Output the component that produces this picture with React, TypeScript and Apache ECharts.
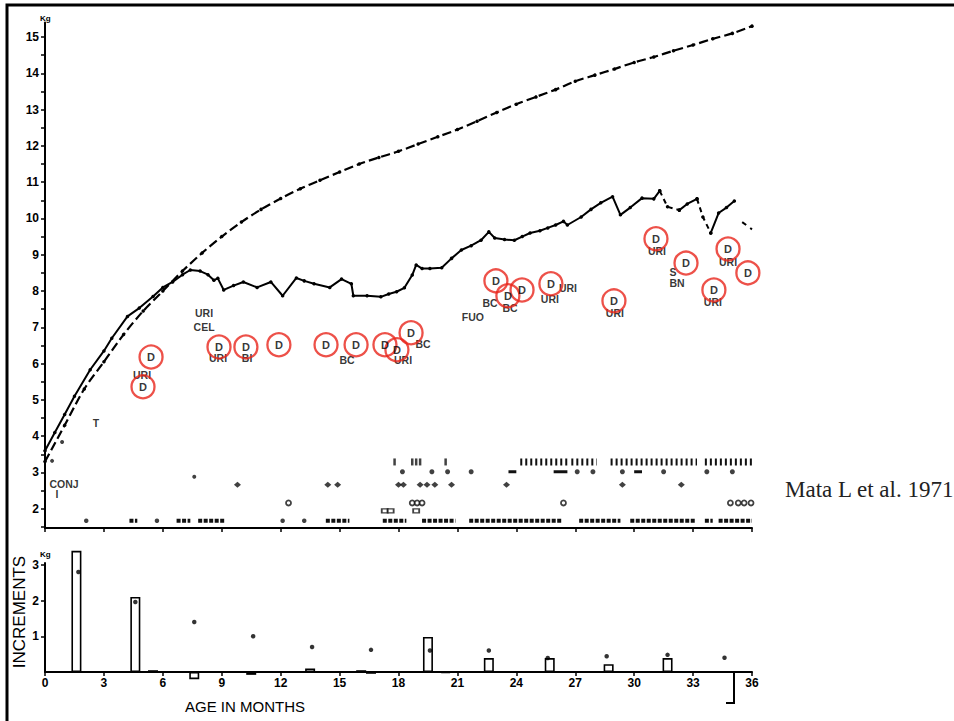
import React, { useEffect, useRef } from "react";
import * as echarts from "echarts";

// ---------- DATA ----------
const standardMonths = [0,1,2,3,4,5,6,7,8,9,10,11,12,13,14,15,16,17,18,19,20,21,22,23,24,25,26,27,28,29,30,31,32,33,34,35,36];
const standardWeight = [3.3,4.3,5.3,6.05,6.8,7.45,8.0,8.55,9.05,9.5,9.9,10.25,10.55,10.82,11.05,11.28,11.5,11.68,11.85,12.05,12.25,12.45,12.68,12.92,13.15,13.35,13.55,13.78,13.95,14.12,14.3,14.45,14.62,14.78,14.95,15.1,15.3];

const childMonths = [0,0.5,1,1.5,2.3,3.0,3.4,4.2,4.8,5.5,6.0,6.5,7.0,7.4,7.9,8.3,8.6,8.8,9.1,9.6,10.1,10.8,11.5,12.1,12.8,13.2,13.7,14.5,15.1,15.6,15.7,16.4,17.1,17.5,17.9,18.3,18.7,18.9,19.2,19.6,20.2,20.7,21.2,21.7,22.2,22.6,22.9,23.4,23.9,24.3,24.7,25.2,25.6,26.0,26.4,26.6,27.3,27.8,28.3,28.9,29.3,29.8,30.4,31.0,31.3,31.7,32.3,32.7,33.2,33.5,33.9,34.3,34.7,35.1];
const childWeight = [3.6,4.1,4.6,5.1,5.83,6.35,6.7,7.3,7.53,7.85,8.1,8.25,8.45,8.58,8.55,8.45,8.3,8.35,8.03,8.15,8.25,8.1,8.25,7.87,8.36,8.28,8.2,8.1,8.33,8.2,7.87,7.87,7.84,7.92,7.98,8.09,8.44,8.72,8.62,8.62,8.64,8.9,9.13,9.25,9.4,9.63,9.46,9.42,9.4,9.5,9.6,9.66,9.74,9.82,9.92,9.82,10.04,10.25,10.43,10.6,10.1,10.3,10.56,10.54,10.76,10.32,10.23,10.4,10.54,10.04,9.6,10.15,10.3,10.48];
// stretches of the child's curve drawn broken in the original (start, end month)
const childBrokenStretches = [[31.3, 32.3], [33.2, 33.9]];
const childTailMonths = [35.5, 36.0];
const childTailWeight = [9.9, 9.7];

// diarrhoea episodes (circled D): age, weight level
const diarrheaMonths = [4.99,5.40,8.86,10.23,11.91,14.31,15.84,17.31,17.92,18.64,22.96,23.57,24.29,25.76,28.97,31.11,32.64,34.06,34.78,35.79];
const diarrheaLevel = [5.36,6.18,6.46,6.46,6.52,6.52,6.52,6.52,6.38,6.85,8.28,7.87,8.03,8.20,7.73,9.44,8.77,8.03,9.16,8.50];

// other illness notes: age, level, label
const noteMonths = [4.94,8.81,10.29,15.38,18.23,19.25,22.66,23.68,26.63,25.71,21.79,29.02,31.16,31.98,32.18,34.01,34.78,8.10,8.10,2.6,0.97,0.61];
const noteLevel = [5.69,6.16,6.16,6.10,6.10,6.54,7.67,7.53,8.09,7.78,7.29,7.40,9.10,8.53,8.22,7.70,8.80,7.40,7.01,4.37,2.69,2.41];
const noteText = ["URI","URI","BI","BC","URI","BC","BC","BC","URI","URI","FUO","URI","URI","S","BN","URI","URI","URI","CEL","T","CONJ","I"];

// event rows in the lower part of the weight panel
const rowALevel = 3.29;
const rowASingles = [17.8, 18.7, 18.9, 19.1, 20.4];
const rowASpans = [[24.2, 26.6], [26.8, 28.1], [28.8, 33.2], [33.6, 36.0]];
const rowBLevel = 3.02;
const rowBSingles = [18.2, 19.7, 20.5, 21.7, 27.1, 27.9, 29.4, 31.5, 33.7, 35.0];
const rowBSpans = [[23.6, 24.0], [25.9, 26.6], [30.0, 30.4]];
const rowCLevel = 2.66;
const rowCSingles = [9.8, 14.4, 14.9, 18.0, 18.25, 19.1, 19.45, 19.85, 20.7, 23.5, 29.4, 32.4];
const rowDLevel = 2.16;
const rowDSingles = [12.4, 18.7, 18.95, 19.2, 26.4, 34.9, 35.3, 35.6, 35.95];
const rowELevel = 1.94;
const rowESingles = [17.3, 17.6, 18.9];
const rowFLevel = 1.67;
const rowFSingles = [2.1, 5.7, 12.1, 13.2];
const rowFSpans = [[4.3, 4.7], [6.7, 7.4], [7.8, 9.2], [14.3, 15.5], [17.2, 18.4], [19.2, 20.9], [21.6, 26.3], [27.2, 29.3], [29.8, 33.1], [33.6, 34.0], [34.3, 36.0]];
const miscMonths = [0.36, 0.87, 7.6];
const miscLevel = [3.32, 3.84, 2.88];

// increments panel
const incrementMonths = [1.6, 4.6, 5.5, 7.6, 10.5, 13.5, 16.1, 16.6, 19.5, 20.4, 22.6, 25.7, 28.7, 31.7];
const incrementValues = [3.39, 2.1, 0.05, -0.2, -0.08, 0.1, 0.05, -0.05, 0.98, -0.03, 0.39, 0.39, 0.22, 0.39];
const standardIncMonths = [1.7, 4.6, 7.6, 10.6, 13.6, 16.6, 19.6, 22.6, 25.6, 28.6, 31.7, 34.6];
const standardIncValues = [2.8, 1.96, 1.4, 1.0, 0.7, 0.62, 0.6, 0.6, 0.39, 0.44, 0.48, 0.4];

const weightLabels = [2,3,4,5,6,7,8,9,10,11,12,13,14,15];
const weightTicks = [1.5,2,2.5,3,3.5,4,4.5,5,5.5,6,6.5,7,7.5,8,8.5,9,9.5,10,10.5,11,11.5,12,12.5,13,13.5,14,14.5,15];
const incLabels = [1, 2, 3];

// ---------- HELPERS ----------
const zip = (xs: number[], ys: number[]) => xs.map((x, i) => [x, ys[i]]);
const rowPts = (xs: number[], level: number) => xs.map((x) => [x, level]);

const FONT = "'Liberation Sans', Arial, sans-serif";

export default function App() {
  const ref = useRef<HTMLDivElement>(null);
  useEffect(() => {
    if (!ref.current) return;
    const chart = echarts.init(ref.current, undefined, { renderer: "svg" });

    const spanData = [
      ...rowASpans.map((s) => [s[0], s[1], rowALevel, 0]),
      ...rowBSpans.map((s) => [s[0], s[1], rowBLevel, 1]),
      ...rowFSpans.map((s) => [s[0], s[1], rowFLevel, 2]),
    ];

    const childAll = zip(childMonths, childWeight);
    const inBroken = (m0: number, m1: number) =>
      childBrokenStretches.some((s) => m0 >= s[0] && m1 <= s[1]);
    // split the curve into solid / broken pieces (null = gap)
    const childSolid: any[] = [];
    const childBroken: any[] = [];
    for (let i = 0; i < childAll.length; i++) {
      const p = childAll[i];
      const prev = childAll[i - 1];
      const next = childAll[i + 1];
      const solidIn = prev ? !inBroken(prev[0], p[0]) : false;
      const solidOut = next ? !inBroken(p[0], next[0]) : false;
      childSolid.push(solidIn || solidOut ? p : null);
      const brokenIn = prev ? inBroken(prev[0], p[0]) : false;
      const brokenOut = next ? inBroken(p[0], next[0]) : false;
      childBroken.push(brokenIn || brokenOut ? p : null);
    }

    const baseAxisLine = { show: true, lineStyle: { color: "#000", width: 2 } };

    const option: any = {
      animation: false,
      backgroundColor: "#fff",
      grid: [
        { left: 45, top: 22.5, width: 707, height: 505.5, containLabel: false },
        { left: 45, top: 563, width: 707, height: 109, containLabel: false },
      ],
      xAxis: [
        {
          type: "value", gridIndex: 0, min: 0, max: 36, interval: 3,
          axisLine: baseAxisLine,
          axisTick: { show: true, length: 4, lineStyle: { color: "#000", width: 1.5 } },
          axisLabel: { show: false },
          splitLine: { show: false },
        },
        {
          type: "value", gridIndex: 1, min: 0, max: 36, interval: 3,
          axisLine: { ...baseAxisLine, onZero: false },
          axisTick: { show: true, length: 4, lineStyle: { color: "#000", width: 1.5 } },
          axisLabel: { show: true, color: "#000", fontFamily: FONT, fontWeight: "bold", fontSize: 12, margin: 5 },
          splitLine: { show: false },
        },
      ],
      yAxis: [
        {
          type: "value", gridIndex: 0, min: 1.47, max: 15.4,
          axisLine: baseAxisLine,
          axisTick: { show: true, length: 4, customValues: weightTicks, lineStyle: { color: "#000", width: 1.5 } },
          axisLabel: { show: true, customValues: weightLabels, color: "#000", fontFamily: FONT, fontWeight: "bold", fontSize: 12, margin: 6 },
          splitLine: { show: false },
        },
        {
          type: "value", gridIndex: 1, min: 0, max: 3.05,
          axisLine: baseAxisLine,
          axisTick: { show: true, length: 4, customValues: incLabels, lineStyle: { color: "#000", width: 1.5 } },
          axisLabel: { show: true, customValues: incLabels, color: "#000", fontFamily: FONT, fontWeight: "bold", fontSize: 12, margin: 6 },
          splitLine: { show: false },
        },
      ],
      series: [
        {
          type: "line", name: "standard", xAxisIndex: 0, yAxisIndex: 0,
          data: zip(standardMonths, standardWeight),
          smooth: 0.3, symbol: "circle", symbolSize: 3.5, showSymbol: true,
          itemStyle: { color: "#000" },
          lineStyle: { color: "#000", width: 2.2, type: [9, 4] },
          z: 3,
        },
        {
          type: "line", name: "child", xAxisIndex: 0, yAxisIndex: 0,
          data: childSolid, connectNulls: false,
          symbol: "circle", symbolSize: 3.5, showSymbol: true,
          itemStyle: { color: "#000" },
          lineStyle: { color: "#000", width: 2 },
          z: 4,
        },
        {
          type: "line", name: "childBroken", xAxisIndex: 0, yAxisIndex: 0,
          data: childBroken, connectNulls: false,
          symbol: "circle", symbolSize: 3.5, showSymbol: true,
          itemStyle: { color: "#000" },
          lineStyle: { color: "#000", width: 2, type: [5, 4] },
          z: 4,
        },
        {
          type: "line", name: "childTail", xAxisIndex: 0, yAxisIndex: 0,
          data: zip(childTailMonths, childTailWeight),
          symbol: "none",
          lineStyle: { color: "#000", width: 2, type: [5, 5] },
        },
        {
          type: "custom", name: "spans", xAxisIndex: 0, yAxisIndex: 0,
          data: spanData,
          encode: { x: [0, 1], y: 2 },
          renderItem: (params: any, api: any) => {
            const s = api.coord([api.value(0), api.value(2)]);
            const e = api.coord([api.value(1), api.value(2)]);
            const kind = api.value(3);
            const style =
              kind === 0
                ? { stroke: "#111", lineWidth: 7, lineDash: [2, 3] }
                : kind === 1
                ? { stroke: "#111", lineWidth: 3 }
                : { stroke: "#111", lineWidth: 4, lineDash: [4, 1.5] };
            return {
              type: "line",
              shape: { x1: s[0], y1: s[1], x2: e[0], y2: e[1] },
              style: { ...style, fill: null },
            };
          },
        },
        {
          type: "scatter", xAxisIndex: 0, yAxisIndex: 0,
          data: rowPts(rowASingles, rowALevel),
          symbol: "rect", symbolSize: [2.5, 7], itemStyle: { color: "#111" },
        },
        {
          type: "scatter", xAxisIndex: 0, yAxisIndex: 0,
          data: rowPts(rowBSingles, rowBLevel),
          symbol: "circle", symbolSize: 5, itemStyle: { color: "#111" },
        },
        {
          type: "scatter", xAxisIndex: 0, yAxisIndex: 0,
          data: rowPts(rowCSingles, rowCLevel),
          symbol: "diamond", symbolSize: [7, 6], itemStyle: { color: "#111" },
        },
        {
          type: "scatter", xAxisIndex: 0, yAxisIndex: 0,
          data: rowPts(rowDSingles, rowDLevel),
          symbol: "circle", symbolSize: 5,
          itemStyle: { color: "#fff", borderColor: "#111", borderWidth: 1.8 },
        },
        {
          type: "scatter", xAxisIndex: 0, yAxisIndex: 0,
          data: rowPts(rowESingles, rowELevel),
          symbol: "rect", symbolSize: [6, 4],
          itemStyle: { color: "#fff", borderColor: "#111", borderWidth: 1.5 },
        },
        {
          type: "scatter", xAxisIndex: 0, yAxisIndex: 0,
          data: rowPts(rowFSingles, rowFLevel),
          symbol: "circle", symbolSize: 4.5, itemStyle: { color: "#111" },
        },
        {
          type: "scatter", xAxisIndex: 0, yAxisIndex: 0,
          data: zip(miscMonths, miscLevel),
          symbol: "circle", symbolSize: 4, itemStyle: { color: "#111" },
        },
        {
          type: "scatter", name: "notes", xAxisIndex: 0, yAxisIndex: 0,
          data: noteMonths.map((m, i) => [m, noteLevel[i], noteText[i]]),
          symbolSize: 0,
          label: {
            show: true, position: "inside", formatter: (p: any) => p.data[2],
            color: "#000", fontFamily: FONT, fontWeight: "bold", fontSize: 10.5,
          },
          z: 5,
        },
        {
          type: "scatter", name: "diarrhoea", xAxisIndex: 0, yAxisIndex: 0,
          data: zip(diarrheaMonths, diarrheaLevel),
          symbol: "circle", symbolSize: 23,
          itemStyle: { color: "rgba(255,255,255,0)", borderColor: "#e8251c", borderWidth: 2.3 },
          label: {
            show: true, position: "inside", formatter: "D",
            color: "#000", fontFamily: FONT, fontWeight: "bold", fontSize: 11,
          },
          z: 6,
        },
        {
          type: "bar", name: "increments", xAxisIndex: 1, yAxisIndex: 1,
          data: zip(incrementMonths, incrementValues),
          barWidth: 10, clip: false,
          itemStyle: { color: "#fff", borderColor: "#000", borderWidth: 1.6 },
          z: 3,
        },
        {
          type: "scatter", name: "standardIncrements", xAxisIndex: 1, yAxisIndex: 1,
          data: zip(standardIncMonths, standardIncValues),
          symbol: "circle", symbolSize: 4.5, itemStyle: { color: "#000" },
          z: 5,
        },
      ],
      graphic: [
        {
          type: "rect", silent: true, z: 0,
          shape: { x: 7, y: 5, width: 990, height: 760 },
          style: { fill: "none", stroke: "#000", lineWidth: 3 },
        },
        {
          type: "text", left: 40, top: 14,
          style: { text: "Kg", fill: "#000", font: "bold 8px " + FONT },
        },
        {
          type: "text", left: 40, top: 550,
          style: { text: "Kg", fill: "#000", font: "bold 8px " + FONT },
        },
        {
          type: "text", x: 245, y: 706,
          style: { text: "AGE IN MONTHS", fill: "#000", font: "15px " + FONT, align: "center", verticalAlign: "middle" },
        },
        {
          type: "text", x: 19, y: 612, rotation: Math.PI / 2,
          style: { text: "INCREMENTS", fill: "#000", font: "17px " + FONT, align: "center", verticalAlign: "middle" },
        },
        {
          type: "polyline", silent: true,
          shape: { points: [[734, 673], [734, 703], [726, 703]] },
          style: { stroke: "#000", lineWidth: 2, fill: "none" },
        },
        {
          type: "text", x: 785, y: 489,
          style: { text: "Mata L et al. 1971", fill: "#222", font: "23px 'Liberation Serif', 'Times New Roman', serif", verticalAlign: "middle" },
        },
      ],
    };

    chart.setOption(option);
    return () => chart.dispose();
  }, []);

  return (
    <div
      ref={ref}
      style={{ position: "fixed", left: 0, top: 0, width: 954, height: 721, background: "#fff" }}
    />
  );
}
